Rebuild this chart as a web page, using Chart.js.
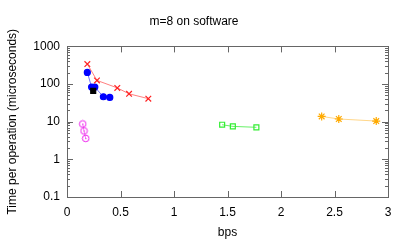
<!DOCTYPE html>
<html>
<head>
<meta charset="utf-8">
<script src="https://cdn.jsdelivr.net/npm/chart.js@4"></script>
<style>
  html, body { margin: 0; padding: 0; background: #fff; }
  #wrap { width: 407px; height: 244px; }
</style>
</head>
<body>
<div id="wrap"><canvas id="chart" width="407" height="244"></canvas></div>
<script>
// values
const redX = [0.19, 0.28, 0.47, 0.58, 0.76];
const redY = [340, 125, 79, 55, 41];
const blueX = [0.19, 0.23, 0.26, 0.34, 0.40];
const blueY = [204, 83, 83, 46, 44];
const blackX = [0.245];
const blackY = [66];
const magentaX = [0.147, 0.159, 0.175];
const magentaY = [8.7, 5.7, 3.6];
const greenX = [1.45, 1.55, 1.77];
const greenY = [8.3, 7.5, 7.1];
const orangeX = [2.38, 2.54, 2.89];
const orangeY = [13.8, 11.8, 10.4];
const xTicks = [0, 0.5, 1, 1.5, 2, 2.5, 3];
const yTicks = [0.1, 1, 10, 100, 1000];

function pts(xs, ys) {
    return xs.map((x, i) => ({ x: x, y: ys[i] }));
}

function series(xs, ys, line, point, style, radius, filled) {
    return {
        data: pts(xs, ys),
        showLine: true,
        borderColor: line,
        borderWidth: 1,
        pointStyle: style,
        pointRadius: radius,
        pointBorderColor: point,
        pointBackgroundColor: filled ? point : "rgba(0,0,0,0)",
        pointBorderWidth: 1.2
    };
}

// open circle with a dot in the middle (gnuplot style)
function dotCircle(color) {
    const c = document.createElement("canvas");
    c.width = 9; c.height = 9;
    const g = c.getContext("2d");
    g.strokeStyle = color;
    g.fillStyle = color;
    g.lineWidth = 1;
    g.beginPath();
    g.arc(4.5, 4.5, 3.3, 0, Math.PI * 2);
    g.stroke();
    g.fillRect(4, 4, 1.2, 1.2);
    return c;
}

// border box + inward ticks like gnuplot
const frame = {
    id: "frame",
    afterDraw(chart) {
        const ctx = chart.ctx;
        const a = chart.chartArea;
        const xs = chart.scales.x;
        const ys = chart.scales.y;
        ctx.save();
        ctx.strokeStyle = "#666";
        ctx.lineWidth = 1;
        ctx.beginPath();
        xTicks.forEach(v => {
            const px = Math.round(xs.getPixelForValue(v)) + 0.5;
            ctx.moveTo(px, a.bottom); ctx.lineTo(px, a.bottom - 6);
            ctx.moveTo(px, a.top); ctx.lineTo(px, a.top + 6);
        });
        for (let d = 0.1; d < 1000; d *= 10) {
            for (let k = 1; k <= 10; k++) {
                const v = d * k;
                const py = Math.round(ys.getPixelForValue(v)) + 0.5;
                const len = k === 1 || k === 10 ? 6 : 3;
                ctx.moveTo(a.left, py); ctx.lineTo(a.left + len, py);
                ctx.moveTo(a.right, py); ctx.lineTo(a.right - len, py);
            }
        }
        ctx.stroke();
        ctx.strokeRect(Math.round(a.left) + 0.5, Math.round(a.top) + 0.5,
            Math.round(a.right - a.left), Math.round(a.bottom - a.top));
        ctx.restore();
    }
};

Chart.defaults.font.family = "'Liberation Sans', Arial, sans-serif";
Chart.defaults.font.size = 12;
Chart.defaults.color = "#000";

const magenta = series(magentaX, magentaY, "rgba(230,0,230,0.5)", "#ee22ee", dotCircle("#ee22ee"), 4, false);

new Chart(document.getElementById("chart"), {
    type: "scatter",
    data: {
        datasets: [
            series(greenX, greenY, "rgba(0,230,0,0.6)", "#33ee33", "rect", 3.5, false),
            series(orangeX, orangeY, "rgba(255,180,40,0.55)", "#ffaa00", "star", 4, false),
            magenta,
            series(redX, redY, "rgba(255,0,0,0.5)", "#ff2222", "crossRot", 4, false),
            series(blackX, blackY, "#000", "#000", "rect", 3.5, true),
            series(blueX, blueY, "rgba(60,60,255,0.7)", "#0000ff", "circle", 3, true)
        ]
    },
    options: {
        responsive: false,
        animation: false,
        layout: { padding: { left: 0, right: 19, top: 0, bottom: 4 } },
        plugins: {
            legend: { display: false },
            tooltip: { enabled: false },
            title: {
                display: true,
                text: "m=8 on software",
                font: { size: 12, weight: "normal" },
                color: "#000",
                padding: { top: 14, bottom: 18 }
            }
        },
        scales: {
            x: {
                type: "linear",
                min: 0,
                max: 3,
                afterBuildTicks: s => { s.ticks = xTicks.map(v => ({ value: v })); },
                grid: { display: false, drawTicks: false },
                border: { display: false },
                ticks: { padding: 8, maxRotation: 0, callback: v => String(v) },
                title: { display: true, text: "bps", padding: { top: 6, bottom: 0 } },
                afterFit: s => { s.height = 43; }
            },
            y: {
                type: "logarithmic",
                min: 0.1,
                max: 1000,
                afterBuildTicks: s => { s.ticks = yTicks.map(v => ({ value: v })); },
                grid: { display: false, drawTicks: false },
                border: { display: false },
                ticks: { padding: 7, callback: v => String(v) },
                title: { display: true, text: "Time per operation (microseconds)", padding: { top: 5, bottom: 0 } },
                afterFit: s => { s.width = 67; }
            }
        }
    },
    plugins: [frame]
});
</script>
</body>
</html>
